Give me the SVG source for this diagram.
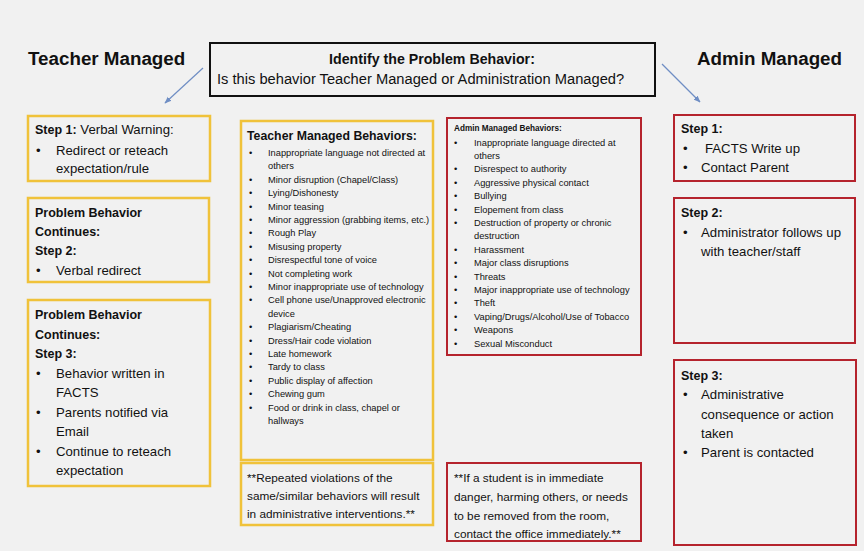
<svg xmlns="http://www.w3.org/2000/svg" width="864" height="551" viewBox="0 0 864 551">
<defs>
<marker id="ah" viewBox="0 0 10 10" refX="9" refY="5" markerWidth="7" markerHeight="7" orient="auto" markerUnits="userSpaceOnUse">
<path d="M0,1 L10,5 L0,9 z" fill="#6f8ec4"/>
</marker>
<style>
text{font-family:"Liberation Sans",Arial,sans-serif;fill:#111;}
.h1{font-size:18.8px;font-weight:bold;}
.b{font-weight:bold;}
.m{font-size:13.2px;}
.mb{font-size:12.5px;font-weight:bold;}
.s{font-size:9.3px;}
.f{font-size:11.8px;}
.yb{fill:none;stroke:#f0c23a;stroke-width:2.5;}
.rb{fill:none;stroke:#b5232d;stroke-width:2;}
.kb{fill:none;stroke:#111;stroke-width:2;}
.conn{stroke:#6f8ec4;stroke-width:1.2;fill:none;marker-end:url(#ah);}
</style>
</defs>
<rect x="0" y="0" width="864" height="551" fill="#f1f1f1"/>

<g id="title-teacher"><text class="h1" x="28" y="65">Teacher Managed</text></g>
<g id="title-admin"><text class="h1" x="697" y="65">Admin Managed</text></g>

<g id="identify">
<rect class="kb" x="210" y="43" width="445" height="53"/>
<text class="b" x="432" y="64" font-size="14.2" text-anchor="middle">Identify the Problem Behavior:</text>
<text x="217" y="84" font-size="14.7">Is this behavior Teacher Managed or Administration Managed?</text>
</g>

<g id="connectors">
<line class="conn" x1="203" y1="68" x2="165" y2="103"/>
<line class="conn" x1="662" y1="64" x2="700" y2="102"/>
</g>

<g id="t-step1">
<rect class="yb" x="28" y="116" width="182" height="65"/>
<text class="m" x="35" y="134"><tspan class="b" font-size="12.5">Step 1:</tspan>  Verbal Warning:</text>
<text class="m" x="36" y="155">•</text><text class="m" x="56" y="155">Redirect or reteach</text>
<text class="m" x="56" y="173">expectation/rule</text>
</g>

<g id="t-step2">
<rect class="yb" x="28" y="198" width="181" height="84"/>
<text class="mb" x="35" y="217">Problem Behavior</text>
<text class="mb" x="35" y="236">Continues:</text>
<text class="mb" x="35" y="255">Step 2:</text>
<text class="m" x="36" y="275">•</text><text class="m" x="56" y="275">Verbal redirect</text>
</g>

<g id="t-step3">
<rect class="yb" x="28" y="300" width="182" height="186"/>
<text class="mb" x="35" y="319">Problem Behavior</text>
<text class="mb" x="35" y="339">Continues:</text>
<text class="mb" x="35" y="358">Step 3:</text>
<text class="m" x="36" y="378">•</text><text class="m" x="56" y="378">Behavior written in</text>
<text class="m" x="56" y="397">FACTS</text>
<text class="m" x="36" y="417">•</text><text class="m" x="56" y="417">Parents notified via</text>
<text class="m" x="56" y="436">Email</text>
<text class="m" x="36" y="456">•</text><text class="m" x="56" y="456">Continue to reteach</text>
<text class="m" x="56" y="475">expectation</text>
</g>

<g id="teacher-behaviors">
<rect class="yb" x="241" y="121" width="192" height="339"/>
<text class="b" x="247" y="140" font-size="12.3">Teacher Managed Behaviors:</text>
<text class="s" x="249" y="156">•</text><text class="s" x="268" y="156">Inappropriate language not directed at</text>
<text class="s" x="268" y="169.4">others</text>
<text class="s" x="249" y="182.8">•</text><text class="s" x="268" y="182.8">Minor disruption (Chapel/Class)</text>
<text class="s" x="249" y="196.2">•</text><text class="s" x="268" y="196.2">Lying/Dishonesty</text>
<text class="s" x="249" y="209.6">•</text><text class="s" x="268" y="209.6">Minor teasing</text>
<text class="s" x="249" y="223">•</text><text class="s" x="268" y="223">Minor aggression (grabbing items, etc.)</text>
<text class="s" x="249" y="236.4">•</text><text class="s" x="268" y="236.4">Rough Play</text>
<text class="s" x="249" y="249.8">•</text><text class="s" x="268" y="249.8">Misusing property</text>
<text class="s" x="249" y="263.2">•</text><text class="s" x="268" y="263.2">Disrespectful tone of voice</text>
<text class="s" x="249" y="276.6">•</text><text class="s" x="268" y="276.6">Not completing work</text>
<text class="s" x="249" y="290">•</text><text class="s" x="268" y="290">Minor inappropriate use of technology</text>
<text class="s" x="249" y="303.4">•</text><text class="s" x="268" y="303.4">Cell phone use/Unapproved electronic</text>
<text class="s" x="268" y="316.8">device</text>
<text class="s" x="249" y="330.2">•</text><text class="s" x="268" y="330.2">Plagiarism/Cheating</text>
<text class="s" x="249" y="343.6">•</text><text class="s" x="268" y="343.6">Dress/Hair code violation</text>
<text class="s" x="249" y="357">•</text><text class="s" x="268" y="357">Late homework</text>
<text class="s" x="249" y="370.4">•</text><text class="s" x="268" y="370.4">Tardy to class</text>
<text class="s" x="249" y="383.8">•</text><text class="s" x="268" y="383.8">Public display of affection</text>
<text class="s" x="249" y="397.2">•</text><text class="s" x="268" y="397.2">Chewing gum</text>
<text class="s" x="249" y="410.6">•</text><text class="s" x="268" y="410.6">Food or drink in class, chapel or</text>
<text class="s" x="268" y="424">hallways</text>
</g>

<g id="teacher-note">
<rect class="yb" x="241" y="463" width="192" height="62"/>
<text class="f" x="247" y="482">**Repeated violations of the</text>
<text class="f" x="247" y="500">same/similar behaviors will result</text>
<text class="f" x="247" y="518">in administrative interventions.**</text>
</g>

<g id="admin-behaviors">
<rect class="rb" x="447" y="118" width="194" height="237"/>
<text class="b" x="454" y="131" font-size="8.2">Admin Managed Behaviors:</text>
<text class="s" x="454" y="145.5">•</text><text class="s" x="474" y="145.5">Inappropriate language  directed at</text>
<text class="s" x="474" y="158.9">others</text>
<text class="s" x="454" y="172.3">•</text><text class="s" x="474" y="172.3">Disrespect to authority</text>
<text class="s" x="454" y="185.7">•</text><text class="s" x="474" y="185.7">Aggressive physical contact</text>
<text class="s" x="454" y="199.1">•</text><text class="s" x="474" y="199.1">Bullying</text>
<text class="s" x="454" y="212.5">•</text><text class="s" x="474" y="212.5">Elopement from class</text>
<text class="s" x="454" y="225.9">•</text><text class="s" x="474" y="225.9">Destruction of property or chronic</text>
<text class="s" x="474" y="239.3">destruction</text>
<text class="s" x="454" y="252.7">•</text><text class="s" x="474" y="252.7">Harassment</text>
<text class="s" x="454" y="266.1">•</text><text class="s" x="474" y="266.1">Major class disruptions</text>
<text class="s" x="454" y="279.5">•</text><text class="s" x="474" y="279.5">Threats</text>
<text class="s" x="454" y="292.9">•</text><text class="s" x="474" y="292.9">Major inappropriate use of technology</text>
<text class="s" x="454" y="306.3">•</text><text class="s" x="474" y="306.3">Theft</text>
<text class="s" x="454" y="319.7">•</text><text class="s" x="474" y="319.7">Vaping/Drugs/Alcohol/Use of Tobacco</text>
<text class="s" x="454" y="333.1">•</text><text class="s" x="474" y="333.1">Weapons</text>
<text class="s" x="454" y="346.5">•</text><text class="s" x="474" y="346.5">Sexual Misconduct</text>
</g>

<g id="admin-note">
<rect class="rb" x="447" y="463" width="194" height="78"/>
<text class="f" x="454" y="482">**If a student is in immediate</text>
<text class="f" x="454" y="501">danger, harming others, or needs</text>
<text class="f" x="454" y="520">to be removed from the room,</text>
<text class="f" x="454" y="538">contact the office immediately.**</text>
</g>

<g id="a-step1">
<rect class="rb" x="674" y="115" width="181" height="66"/>
<text class="mb" x="681" y="133">Step 1:</text>
<text class="m" x="683" y="153">•</text><text class="m" x="705" y="153">FACTS Write up</text>
<text class="m" x="683" y="172">•</text><text class="m" x="701" y="172">Contact Parent</text>
</g>

<g id="a-step2">
<rect class="rb" x="674" y="198" width="181" height="145"/>
<text class="mb" x="681" y="217">Step 2:</text>
<text class="m" x="683" y="237">•</text><text class="m" x="701" y="237">Administrator follows up</text>
<text class="m" x="701" y="256">with teacher/staff</text>
</g>

<g id="a-step3">
<rect class="rb" x="674" y="360" width="182" height="185"/>
<text class="mb" x="681" y="380">Step 3:</text>
<text class="m" x="683" y="399">•</text><text class="m" x="701" y="399">Administrative</text>
<text class="m" x="701" y="419">consequence or action</text>
<text class="m" x="701" y="438">taken</text>
<text class="m" x="683" y="457">•</text><text class="m" x="701" y="457">Parent is contacted</text>
</g>
</svg>
